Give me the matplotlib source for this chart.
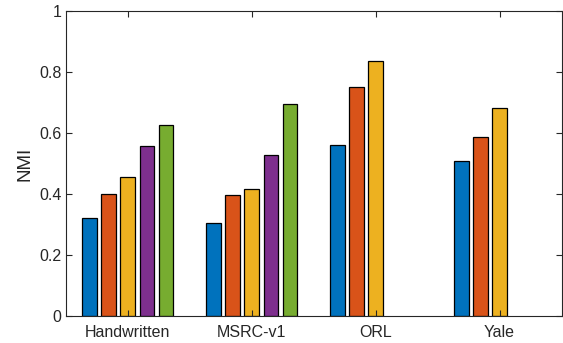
import matplotlib
matplotlib.use("Agg")
import matplotlib.pyplot as plt
import numpy as np

plt.rcParams['font.family'] = ['Liberation Sans', 'DejaVu Sans']

categories = ["Handwritten", "MSRC-v1", "ORL", "Yale"]
series1 = [0.321, 0.306, 0.563, 0.508]
series2 = [0.400, 0.397, 0.753, 0.588]
series3 = [0.457, 0.416, 0.838, 0.682]
series4 = [0.557, 0.529, np.nan, np.nan]
series5 = [0.628, 0.697, np.nan, np.nan]
series = [series1, series2, series3, series4, series5]
colors = ["#0072BD", "#D95319", "#EDB120", "#7E2F8E", "#77AC30"]
yticks = [0, 0.2, 0.4, 0.6, 0.8, 1]
ytick_labels = ["0", "0.2", "0.4", "0.6", "0.8", "1"]

fig = plt.figure(figsize=(5.63, 3.43), dpi=100)
ax = fig.add_axes([65.7/563, 26.7/343, (561.5-65.7)/563, 305/343])

x = np.arange(1, len(categories) + 1)
pitch = 0.1544
width = 0.117
for i, (vals, c) in enumerate(zip(series, colors)):
    ax.bar(x + (i - 2) * pitch, vals, width=width, color=c,
           edgecolor="black", linewidth=0.9)

ax.set_xlim(0.5, 4.5)
ax.set_ylim(0, 1)
ax.set_xticks(x)
ax.set_xticklabels(categories)
ax.set_yticks(yticks)
ax.set_yticklabels(ytick_labels)
ax.set_ylabel("NMI", fontsize=13.5, color="#262626", labelpad=4)

gray = "#262626"
for s in ax.spines.values():
    s.set_color(gray)
    s.set_linewidth(0.8)
ax.tick_params(axis="both", direction="in", length=4, width=0.8,
               colors=gray, labelsize=11.5, top=True, right=True)
ax.tick_params(axis="x", pad=6)
ax.tick_params(axis="y", pad=3)

fig.savefig("out.png", dpi=100)
